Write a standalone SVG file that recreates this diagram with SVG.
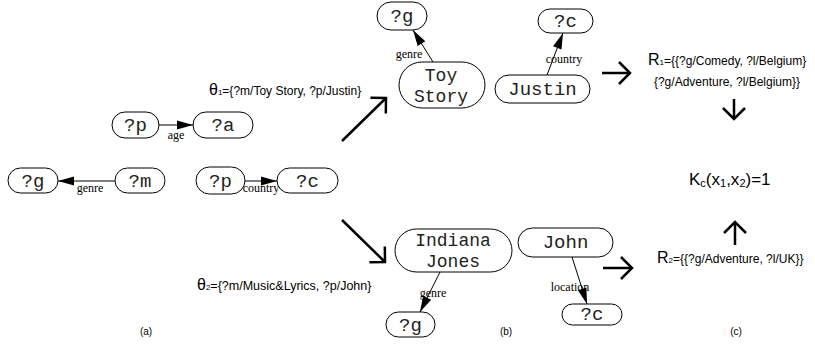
<svg xmlns="http://www.w3.org/2000/svg" width="815" height="346" viewBox="0 0 815 346">
<style>
.n{fill:#fff;stroke:#000;stroke-width:1}
.t{font-family:"Liberation Mono",monospace;font-size:19px;fill:#222;text-anchor:middle}
.t2{font-size:18px}
.e{stroke:#000;stroke-width:1;fill:none}
.el{font-family:"Liberation Serif",serif;font-size:12px;fill:#000;text-anchor:middle}
.big{stroke:#000;stroke-width:2.5;fill:none}
.m{font-family:"Liberation Sans",Arial,sans-serif;fill:#000}
</style>
<defs>
<marker id="ah" markerUnits="userSpaceOnUse" markerWidth="17" markerHeight="10" refX="16" refY="4.5" orient="auto" overflow="visible"><path d="M0,0 L16,4.5 L0,9 z" fill="#000"/></marker>
<marker id="oh" markerUnits="userSpaceOnUse" markerWidth="1" markerHeight="1" refX="0" refY="0" orient="auto" overflow="visible"><path d="M-11,-11 L0,0 L-11,11" fill="none" stroke="#000" stroke-width="2.5"/></marker>
</defs>

<g id="connectors">
<line class="e" x1="159" y1="125" x2="193" y2="125" marker-end="url(#ah)"/>
<line class="e" x1="115" y1="181" x2="58" y2="181" marker-end="url(#ah)"/>
<line class="e" x1="245" y1="181" x2="277" y2="181" marker-end="url(#ah)"/>
<line class="e" x1="433" y1="62" x2="413" y2="30" marker-end="url(#ah)"/>
<line class="e" x1="547" y1="75" x2="563" y2="33" marker-end="url(#ah)"/>
<line class="e" x1="440" y1="272" x2="420" y2="312" marker-end="url(#ah)"/>
<line class="e" x1="572" y1="257" x2="587" y2="304" marker-end="url(#ah)"/>
<line class="big" x1="342" y1="141" x2="386" y2="98" marker-end="url(#oh)"/>
<line class="big" x1="342" y1="220" x2="385" y2="262" marker-end="url(#oh)"/>
<line class="big" x1="602" y1="73" x2="630" y2="73" marker-end="url(#oh)"/>
<line class="big" x1="603" y1="268" x2="632" y2="268" marker-end="url(#oh)"/>
<line class="big" x1="734" y1="99" x2="734" y2="119" marker-end="url(#oh)"/>
<line class="big" x1="735" y1="245" x2="735" y2="222" marker-end="url(#oh)"/>
<text class="el" x="176" y="139">age</text>
<text class="el" x="90" y="192">genre</text>
<text class="el" x="261" y="192">country</text>
<text class="el" x="409" y="58">genre</text>
<text class="el" x="564" y="63">country</text>
<text class="el" x="433" y="297">genre</text>
<text class="el" x="570" y="291">location</text>
</g>

<g id="n_p1"><rect class="n" x="112" y="112" width="47" height="26" rx="13"/><text class="t" x="135.5" y="131">?p</text></g>
<g id="n_a"><rect class="n" x="193" y="112" width="60" height="26" rx="13"/><text class="t" x="223" y="131">?a</text></g>
<g id="n_g1"><rect class="n" x="8" y="168" width="50" height="25" rx="12.5"/><text class="t" x="33" y="187">?g</text></g>
<g id="n_m"><rect class="n" x="115" y="168" width="50" height="25" rx="12.5"/><text class="t" x="140" y="187">?m</text></g>
<g id="n_p2"><rect class="n" x="196" y="167" width="49" height="27" rx="13.5"/><text class="t" x="220.5" y="187">?p</text></g>
<g id="n_c1"><rect class="n" x="277" y="168" width="61" height="25" rx="12.5"/><text class="t" x="307.5" y="187">?c</text></g>

<g id="n_g2"><rect class="n" x="377" y="2" width="50" height="28" rx="14"/><text class="t" x="402" y="22">?g</text></g>
<g id="n_toy"><rect class="n" x="399" y="62" width="86" height="46" rx="23"/><text class="t t2" x="441" y="81">Toy</text><text class="t t2" x="441" y="102">Story</text></g>
<g id="n_c2"><rect class="n" x="538" y="9" width="55" height="24" rx="12"/><text class="t" x="565.5" y="27">?c</text></g>
<g id="n_justin"><rect class="n" x="495" y="75" width="95" height="28" rx="14"/><text class="t" x="542.5" y="95">Justin</text></g>

<g id="n_indiana"><rect class="n" x="395" y="229" width="117" height="43" rx="21.5"/><text class="t t2" x="453" y="246">Indiana</text><text class="t t2" x="453" y="267">Jones</text></g>
<g id="n_g3"><rect class="n" x="386" y="312" width="49" height="25" rx="12.5"/><text class="t" x="410.5" y="331">?g</text></g>
<g id="n_john"><rect class="n" x="518" y="228" width="95" height="29" rx="14.5"/><text class="t" x="565.5" y="248">John</text></g>
<g id="n_c3"><rect class="n" x="562" y="304" width="60" height="21" rx="10.5"/><text class="t" x="592" y="320">?c</text></g>

<g id="texts">
<text class="m" x="209" y="95"><tspan font-size="16">θ</tspan><tspan font-size="8">1</tspan><tspan font-size="12">={?m/Toy Story, ?p/Justin}</tspan></text>
<text class="m" x="197" y="290"><tspan font-size="16">θ</tspan><tspan font-size="8">2</tspan><tspan font-size="12.5">={?m/Music&amp;Lyrics, ?p/John}</tspan></text>
<text class="m" x="648" y="65"><tspan font-size="16">R</tspan><tspan font-size="8">1</tspan><tspan font-size="12">={{?g/Comedy, ?l/Belgium}</tspan></text>
<text class="m" x="727" y="86" font-size="12" text-anchor="middle">{?g/Adventure, ?l/Belgium}}</text>
<text class="m" x="657" y="263"><tspan font-size="16">R</tspan><tspan font-size="8">2</tspan><tspan font-size="12">={{?g/Adventure, ?l/UK}}</tspan></text>
<text class="m" x="689" y="185" font-size="17">K<tspan font-size="11" dy="2">c</tspan><tspan dy="-2">(x</tspan><tspan font-size="11" dy="2">1</tspan><tspan dy="-2">,x</tspan><tspan font-size="11" dy="2">2</tspan><tspan dy="-2">)=1</tspan></text>
<text class="m" x="146" y="335" font-size="10" text-anchor="middle">(a)</text>
<text class="m" x="506" y="335" font-size="10" text-anchor="middle">(b)</text>
<text class="m" x="736" y="335" font-size="10" text-anchor="middle">(c)</text>
</g>
</svg>
